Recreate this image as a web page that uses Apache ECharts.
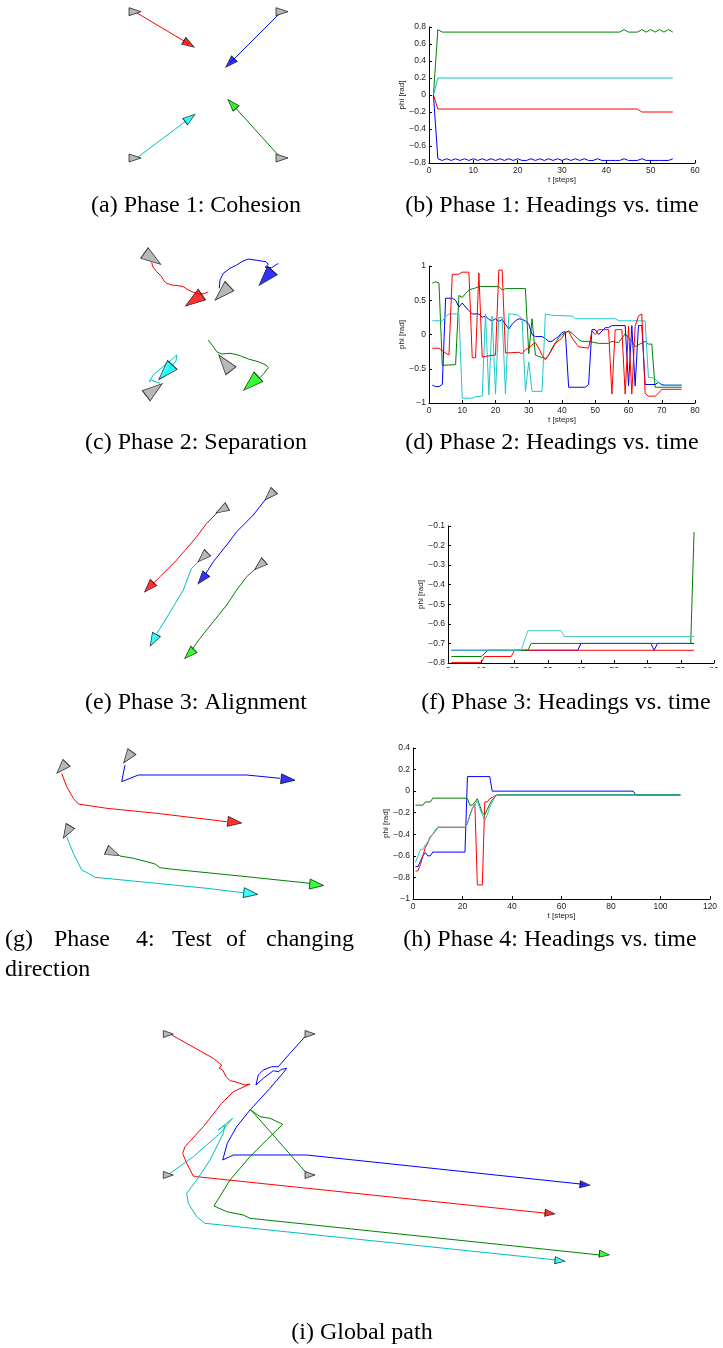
<!DOCTYPE html>
<html><head><meta charset="utf-8">
<script src="https://cdn.jsdelivr.net/npm/echarts@6.0.0/dist/echarts.min.js"></script>
<style>html,body{margin:0;padding:0;background:#fff}#c{width:723px;height:1348px}</style>
</head><body><div id="c"></div>
<script>
// ---------- Heading charts data: [t, phi] ----------
// (b) Phase 1
const headB_green = [[1,0],[2,0.77],[3,0.74],[43,0.74],[44,0.77],[45,0.74],[47,0.74],[48,0.77],[49,0.74],[50,0.77],[51,0.74],[52,0.77],[53,0.74],[54,0.77],[55,0.74]];
const headB_cyan = [[1,0],[2,0.2],[55,0.2]];
const headB_red = [[1,0],[2,-0.165],[47,-0.165],[48,-0.2],[55,-0.2]];
const headB_blue = [0,-0.75,-0.77,-0.75,-0.77,-0.75,-0.77,-0.75,-0.77,-0.75,
  -0.77,-0.75,-0.77,-0.75,-0.77,-0.75,-0.77,-0.75,-0.77,-0.75,
  -0.77,-0.77,-0.75,-0.77,-0.75,-0.77,-0.75,-0.77,-0.75,-0.77,
  -0.75,-0.77,-0.75,-0.77,-0.75,-0.77,-0.77,-0.75,-0.77,-0.77,
  -0.77,-0.77,-0.77,-0.75,-0.77,-0.77,-0.77,-0.75,-0.77,-0.77,
  -0.77,-0.77,-0.77,-0.77,-0.75];
// (d) Phase 2
const headD_green = [[1,0.75],[2,0.77],[3,0.75],[4,-0.45],[8,-0.44],[9,0.57],[10,0.54],[11,0.6],[12,0.65],[14,0.68],[15,0.7],[21,0.7],[22,0.65],[23,0.67],[29,0.67],[30,-0.28],[31,0.23],[32,-0.3],[33,-0.32],[35,-0.35],[36,-0.3],[37,-0.2],[38,-0.12],[39,-0.05],[40,0],[42,0.05],[43,0.02],[44,-0.03],[45,-0.07],[46,-0.1],[48,-0.1],[49,-0.11],[51,-0.13],[54,-0.13],[55,-0.1],[57,-0.12],[59,0.01],[60,-0.05],[61,-0.1],[62,-0.18],[63,-0.15],[65,-0.1],[66,-0.14],[67,-0.14],[68,-0.77],[76,-0.77]];
const headD_red = [[1,-0.2],[3,-0.2],[5,-0.27],[6,-0.3],[7,0.88],[9,0.88],[10,0.91],[12,0.91],[13,-0.34],[14,-0.34],[15,0.9],[16,-0.33],[18,-0.31],[20,-0.3],[21,0.94],[22,0.94],[23,-0.27],[27,-0.26],[28,-0.28],[29,-0.22],[30,-0.2],[31,-0.15],[32,-0.12],[33,-0.2],[34,-0.3],[35,-0.37],[36,-0.3],[37,-0.22],[38,-0.13],[40,-0.05],[41,0.03],[42,0.05],[43,-0.05],[45,-0.18],[48,-0.2],[49,0.05],[50,0.0],[51,0.07],[54,0.07],[55,-0.87],[56,0.07],[58,0.07],[59,-0.87],[60,0.12],[61,-0.87],[62,0.12],[63,0.27],[64,0.3],[65,-0.86],[66,-0.9],[68,-0.9],[69,-0.86],[70,-0.8],[76,-0.8]];
const headD_blue = [[1,-0.74],[2,-0.76],[3,-0.76],[4,-0.73],[5,0.53],[7,0.53],[8,0.5],[9,0.4],[10,0.46],[11,0.4],[12,0.35],[13,0.3],[15,0.3],[16,0.25],[17,0.27],[18,0.22],[19,0.2],[20,0.23],[21,0.19],[22,0.22],[23,0.15],[24,0.08],[25,0.15],[26,0.2],[27,0.23],[28,0.22],[29,0.2],[30,0.15],[31,0.0],[32,-0.03],[34,-0.03],[35,-0.06],[36,-0.1],[37,-0.1],[38,-0.06],[39,-0.03],[40,0.03],[41,0.04],[42,-0.77],[47,-0.77],[48,-0.73],[49,0.07],[50,0.07],[51,0.0],[52,0.05],[53,0.1],[54,0.1],[55,0.13],[59,0.13],[60,-0.75],[61,0.13],[62,-0.75],[63,0.13],[64,0.13],[65,-0.73],[68,-0.73],[69,-0.7],[70,-0.73],[71,-0.74],[76,-0.74]];
const headD_cyan = [[1,0.2],[4,0.2],[5,0.26],[6,0.3],[9,0.3],[10,-0.93],[13,-0.93],[14,-0.91],[16,-0.9],[17,0.3],[18,-0.88],[19,0.27],[20,-0.87],[21,0.25],[22,0.25],[23,-0.87],[24,0.3],[25,0.3],[27,0.28],[28,0.22],[29,-0.83],[30,-0.4],[31,-0.83],[34,-0.83],[35,0.3],[37,0.28],[43,0.27],[44,0.23],[56,0.23],[57,0.2],[65,0.2],[66,-0.63],[67,-0.63],[68,-0.65],[69,-0.7],[70,-0.74],[76,-0.74]];
// (f) Phase 3
const headF_blue = [[1,-0.735],[39,-0.735],[40,-0.70],[61,-0.70],[62,-0.735],[63,-0.70],[74,-0.70]];
const headF_green = [[1,-0.767],[10,-0.767],[12,-0.735],[24,-0.735],[25,-0.70],[73,-0.70],[74,-0.13]];
const headF_red = [[1,-0.797],[10,-0.797],[11,-0.767],[19,-0.767],[20,-0.735],[74,-0.735]];
const headF_cyan = [[1,-0.735],[22,-0.735],[24,-0.635],[34,-0.635],[35,-0.665],[74,-0.665]];
// (h) Phase 4
const headH_blue = [[1,-0.7],[2,-0.7],[3,-0.65],[4,-0.6],[5,-0.57],[6,-0.6],[7,-0.6],[8,-0.565],[21,-0.565],[22,0.135],[31,0.135],[32,0.0],[89,0.0],[90,-0.035],[108,-0.035]];
const headH_red = [[1,-0.74],[2,-0.74],[3,-0.68],[4,-0.6],[5,-0.52],[6,-0.48],[7,-0.42],[8,-0.4],[9,-0.37],[10,-0.335],[21,-0.335],[22,-0.3],[23,-0.22],[24,-0.16],[25,-0.12],[26,-0.87],[28,-0.87],[29,-0.1],[30,-0.1],[31,-0.07],[32,-0.06],[33,-0.045],[34,-0.035],[108,-0.035]];
const headH_green = [[1,-0.13],[4,-0.13],[5,-0.1],[7,-0.1],[8,-0.065],[21,-0.065],[22,-0.07],[23,-0.13],[24,-0.13],[26,-0.07],[28,-0.2],[29,-0.22],[30,-0.17],[31,-0.12],[32,-0.08],[34,-0.035],[108,-0.035]];
const headH_cyan = [[1,-0.66],[2,-0.6],[3,-0.54],[4,-0.54],[5,-0.5],[6,-0.47],[7,-0.43],[8,-0.4],[9,-0.36],[10,-0.335],[21,-0.335],[22,-0.3],[23,-0.23],[24,-0.16],[25,-0.12],[26,-0.09],[27,-0.16],[28,-0.22],[29,-0.27],[30,-0.22],[31,-0.15],[32,-0.1],[33,-0.06],[34,-0.035],[108,-0.035]];

// ---------- Trajectory data (arena coordinates), agent order: red, blue, green, cyan ----------
const p1_red = [[137,13],[189,44]];
const p1_blue = [[279,14],[230,63]];
const p1_green = [[279,156],[232,104]];
const p1_cyan = [[138,157],[190,118]];
const p1_start = [[135,11.7],[282,11.7],[282,158],[135,158]];
const p1_startHead = [0,0,0,0];
const p1_end = [[189,44],[230,63],[232,104],[190,118]];

const p2_red = [[151.7,262.3],[152.7,266.7],[156.7,271.7],[161.7,276.7],[164,281],[166.7,283.3],[171.7,285],[178.3,285.7],[183.3,286.7],[188.3,290],[193.3,292.3],[200,294.3],[205,293.3],[208.3,291.7]];
const p2_blue = [[219.3,288.3],[220,280],[223.3,273.3],[230,268.3],[236.7,265],[241.7,261.7],[248.3,259],[256.7,260.3],[266,261.7],[268.3,264.3],[265,267.3],[271.7,267.7],[276.7,264.3],[278.3,263.7]];
const p2_green = [[208.3,340],[213.3,346.7],[216.7,351.7],[221.7,354],[230,353.3],[238.3,355],[248.3,359],[258.3,361.7],[266,365],[268.3,367.7],[264,373.3],[260,377.7]];
const p2_cyan = [[160,383.3],[151.7,380],[149.3,381.7],[153.3,375],[161.7,367.7],[170,361],[176.7,355],[176,361],[170,368.3],[163.3,376.7],[159.3,379]];
const p2_start = [[152.6,258.7],[222.2,293.2],[224.8,362.8],[154.2,389.7]];
const p2_startHead = [-35,224,127.5,37];
const p2_end = [[193.6,300.3],[265.7,277.9],[251,383.6],[165.5,372.3]];
const p2_endHead = [215,228,222.5,227.6];

const p3_red = [[217.3,512.7],[206.7,523.3],[196.7,536.7],[176.7,560],[160,576.7],[151.7,585]];
const p3_blue = [[265,500],[253.3,515],[236.7,531.7],[226.7,545],[213.3,561.7],[206,573.3]];
const p3_green = [[256,568.3],[246.7,576.7],[236.7,590],[226.7,605],[213.3,621.7],[200,638.3],[191.7,650]];
const p3_cyan = [[198.3,561.7],[191.7,568.3],[188.3,576.7],[183.3,590],[173.3,606.7],[163.3,623.3],[156.7,633.3]];
const p3_start = [[221.7,509.8],[269.6,495.3],[259.6,565.3],[202.8,557.3]];
const p3_startHead = [210,225.5,221.7,224];
const p3_end = [[149,587.3],[202.1,578.8],[189.3,654],[153.3,640.3]];
const p3_endHead = [227,230.7,225,241.5];

const p4_red = [[61.7,773.3],[66.7,786.7],[73.3,798.3],[78.3,804],[80,806],[106.7,808.3],[156.7,813.3],[226.7,821.7]];
const p4_blue = [[125,765],[121.7,781.7],[138.3,775],[246.7,775],[280,778.3]];
const p4_green = [[120,856],[133.3,858.3],[146.7,861.7],[155,864],[160,867.7],[173.3,869.3],[240,876],[310,883.3]];
const p4_cyan = [[66.7,836.7],[73.3,853.3],[81.7,870],[88.3,873.3],[95,877.3],[140,881.7],[206.7,888.3],[243.3,892.7]];
const p4_start = [[61.7,768],[127.7,757.3],[112.9,852.8],[66.9,832.1]];
const p4_startHead = [227,234,-24,240];
const p4_end = [[234.7,822.2],[288,779.5],[316.7,884.8],[250.7,893.5]];

const p5_red = [[171.7,1035],[213.3,1058.3],[221.7,1065],[219.3,1068.3],[222.7,1070],[226,1076.7],[230,1080.7],[235,1081.7],[240,1083.3],[245,1085],[250,1084],[233.3,1091.7],[221.7,1103.3],[203.3,1126.7],[185,1146.7],[182.7,1153.3],[186.7,1163.3],[193.3,1176],[196.7,1176.7],[546.7,1213.3]];
const p5_blue = [[305,1036.7],[290,1053.3],[278.3,1066.7],[271.7,1066.7],[263.3,1070],[258.3,1075],[256,1085],[263.3,1078.3],[273.3,1070.7],[278.3,1071.7],[281.7,1069.3],[286.7,1068.3],[283.3,1072.7],[270,1088.3],[250,1110],[236.7,1126.7],[227.3,1143.3],[222.7,1160],[233.3,1155],[306.7,1155],[583.3,1184.3]];
const p5_green = [[306.7,1173.3],[283.3,1146.7],[260,1120],[250,1109.3],[260,1116.7],[270,1118.3],[282.7,1124.3],[266.7,1140],[250,1156.7],[230,1180],[214,1206],[226.7,1211.7],[243.3,1215],[250,1218.3],[600,1255]];
const p5_cyan = [[170,1173.3],[193.3,1156.7],[220,1133.3],[232.7,1118.3],[218.3,1130],[225,1125],[223.3,1133.3],[210,1160],[196.7,1180],[186.7,1193.3],[188.3,1203.3],[196.7,1216.7],[205,1223.3],[556.7,1260]];
const p5_start = [[168.3,1034],[310,1034],[310,1175],[168.3,1175]];
const p5_startHead = [0,0,0,0];
const p5_end = [[550,1213.3],[585,1184.7],[604.3,1254.3],[560,1260.7]];

// ---------- Captions ----------
const captions = ['(a) Phase 1: Cohesion','(b) Phase 1: Headings vs. time','(c) Phase 2: Separation','(d) Phase 2: Headings vs. time','(e) Phase 3: Alignment','(f) Phase 3: Headings vs. time','(h) Phase 4: Headings vs. time','(i) Global path'];
const captionG = ['(g)','Phase','4:','Test','of','changing'];
const captionG2 = 'direction';

// ---------- build ----------
const LINE_COL = ['#ff0000','#0000ff','#008000','#00bfbf'];
const HEAD_COL = ['#ff0000','#0000ff','#00ff00','#00ffff'];
const TRI = 'path://M0,0L2,1L0,2Z';
const grids=[], xAxes=[], yAxes=[], series=[];

function lastHeading(p){const a=p[p.length-2], b=p[p.length-1];return Math.atan2(-(b[1]-a[1]), b[0]-a[0])*180/Math.PI;}

function pathPanel(box, paths, starts, startHead, ends, endHead, sz){
  const gi=grids.length;
  grids.push({left:box[0],top:box[1],width:box[2],height:box[3]});
  xAxes.push({gridIndex:gi,type:'value',min:box[0],max:box[0]+box[2],show:false});
  yAxes.push({gridIndex:gi,type:'value',min:box[1],max:box[1]+box[3],inverse:true,show:false});
  paths.forEach((p,i)=>{
    series.push({type:'line',xAxisIndex:gi,yAxisIndex:gi,data:p,showSymbol:false,symbol:'none',clip:false,
      lineStyle:{color:LINE_COL[i],width:1},z:2,silent:true});
  });
  series.push({type:'scatter',xAxisIndex:gi,yAxisIndex:gi,symbol:TRI,symbolSize:sz,clip:false,z:3,silent:true,
    data:starts.map((s,i)=>({value:s,symbolRotate:startHead[i],itemStyle:{color:'#a6a6a6',borderColor:'#000',borderWidth:0.8}}))});
  series.push({type:'scatter',xAxisIndex:gi,yAxisIndex:gi,symbol:TRI,symbolSize:sz,clip:false,z:4,silent:true,
    data:ends.map((s,i)=>({value:s,symbolRotate:endHead?endHead[i]:lastHeading(paths[i]),itemStyle:{color:HEAD_COL[i],borderColor:'#000',borderWidth:0.8}}))});
}

const fmt = v=>{const a=Math.round(Math.abs(v)*100)/100;return (v<-1e-9?'\u2212':'')+a;};
const AX = {fontFamily:'Liberation Sans',fontSize:8.5,color:'#222'};
function chartPanel(box, xmax, xint, ymin, ymax, yint, gapY, lines){
  const gi=grids.length;
  grids.push({left:box[0],top:box[1],width:box[2],height:box[3]});
  const common = {gridIndex:gi,type:'value',splitLine:{show:false},
    axisLine:{show:true,onZero:false,lineStyle:{color:'#000',width:1}},
    axisTick:{show:true,inside:true,length:3,lineStyle:{color:'#000',width:1}},
    nameLocation:'middle',nameTextStyle:{fontFamily:'Liberation Sans',fontSize:8,color:'#222'}};
  xAxes.push(Object.assign({},common,{min:0,max:xmax,interval:xint,name:'t [steps]',nameGap:10,
    axisLabel:Object.assign({margin:3,formatter:fmt},AX)}));
  yAxes.push(Object.assign({},common,{min:ymin,max:ymax,interval:yint,name:'phi [rad]',nameGap:gapY,
    axisLabel:Object.assign({margin:3,formatter:fmt},AX)}));
  lines.forEach(l=>{
    series.push({type:'line',xAxisIndex:gi,yAxisIndex:gi,data:l[0],showSymbol:false,symbol:'none',
      lineStyle:{color:l[1],width:1},z:2,silent:true});
  });
}

pathPanel([100,0,220,170],[p1_red,p1_blue,p1_green,p1_cyan],p1_start,p1_startHead,p1_end,null,[12,8]);
chartPanel([429,27,266,136],60,10,-0.8,0.8,0.2,19,[
  [headB_green,'#008000'],[headB_cyan,'#00c8c8'],[headB_red,'#ff0000'],[headB_blue.map((v,i)=>[i+1,v]),'#0000ff']]);
pathPanel([120,235,180,175],[p2_red,p2_blue,p2_green,p2_cyan],p2_start,p2_startHead,p2_end,p2_endHead,[20,13]);
chartPanel([429,266,266,137],80,10,-1,1,0.5,17,[
  [headD_green,'#008000'],[headD_blue,'#0000ff'],[headD_cyan,'#20c8c8'],[headD_red,'#ff0000']]);
pathPanel([130,480,160,190],[p3_red,p3_blue,p3_green,p3_cyan],p3_start,p3_startHead,p3_end,p3_endHead,[13,9]);
chartPanel([448,526,266,137],80,10,-0.8,-0.1,0.1,19,[
  [headF_blue,'#0000ff'],[headF_red,'#ff0000'],[headF_green,'#008000'],[headF_cyan,'#40c8c8']]);
pathPanel([40,720,300,190],[p4_red,p4_blue,p4_green,p4_cyan],p4_start,p4_startHead,p4_end,null,[14,10]);
chartPanel([413,748,297,151],120,20,-1,0.4,0.2,18,[
  [headH_blue,'#0000ff'],[headH_red,'#ff0000'],[headH_green,'#008000'],[headH_cyan,'#20c8c8']]);
pathPanel([150,1020,470,250],[p5_red,p5_blue,p5_green,p5_cyan],p5_start,p5_startHead,p5_end,null,[10,7]);

const CF = 'normal 24px "Liberation Serif"';
const capPos = [[196,206],[552,206],[196,443],[552,443],[196,703],[566,703],[550,940],[362,1333]];
const graphic = captions.map((t,i)=>({type:'text',x:capPos[i][0],y:capPos[i][1],z:10,
  style:{text:t,font:CF,fill:'#000',textAlign:'center',textVerticalAlign:'middle'}}));
const gX = [5,54,136,172,226,266];
captionG.forEach((w,i)=>graphic.push({type:'text',x:gX[i],y:940,z:10,style:{text:w,font:CF,fill:'#000',textAlign:'left',textVerticalAlign:'middle'}}));
graphic.push({type:'text',x:5,y:970,z:10,style:{text:captionG2,font:CF,fill:'#000',textAlign:'left',textVerticalAlign:'middle'}});
// (f) axis labels are cropped in the original figure
graphic.push({type:'rect',shape:{x:400,y:668,width:323,height:20},style:{fill:'#fff'},z:9});

const chart = echarts.init(document.getElementById('c'));
chart.setOption({animation:false,backgroundColor:'#fff',grid:grids,xAxis:xAxes,yAxis:yAxes,series:series,graphic:graphic});
</script></body></html>
